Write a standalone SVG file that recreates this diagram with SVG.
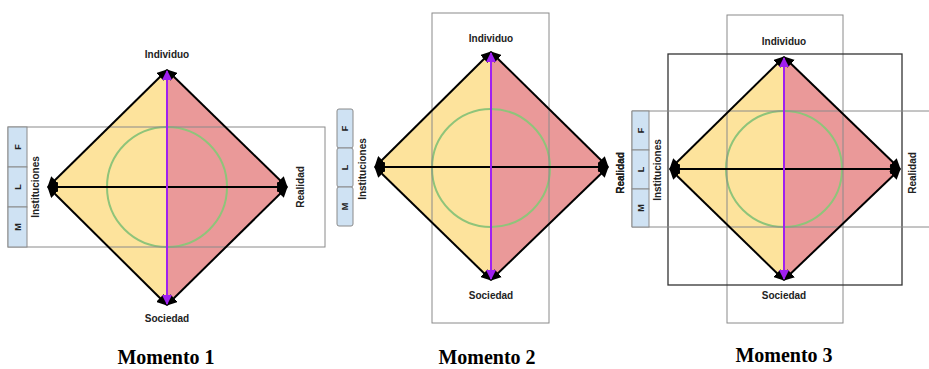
<svg xmlns="http://www.w3.org/2000/svg" width="929" height="369" viewBox="0 0 929 369">
<style>
.yel{fill:#fde39c;stroke:none}
.red{fill:#ea9999;stroke:none}
.edge{stroke:#000;stroke-width:2;fill:none}
.axisH{stroke:#000;stroke-width:1.8;fill:none}
.axisV{stroke:#a020f0;stroke-width:2;fill:none}
.circ{fill:none;stroke:#8fc47a;stroke-width:2}
.box{fill:none;stroke:#8a8a8a;stroke-width:1}
.boxd{fill:none;stroke:#333;stroke-width:1.3}
.blk{fill:#cfe2f3;stroke:#8a8a8a;stroke-width:1}
.lbl{font-family:"Liberation Sans",Arial,sans-serif;font-weight:bold;font-size:10px;fill:#222;text-anchor:middle}
.let{font-family:"Liberation Sans",Arial,sans-serif;font-weight:bold;font-size:9px;fill:#222;text-anchor:middle}
.cap{font-family:"Liberation Serif","Times New Roman",serif;font-weight:bold;font-size:20px;fill:#000;text-anchor:middle}
</style>
<defs>
<marker id="ak" viewBox="0 0 10 10" refX="9" refY="5" markerWidth="5.5" markerHeight="5.5" orient="auto-start-reverse"><path d="M0,0 L10,5 L0,10 z" fill="#000"/></marker>
<marker id="ap" viewBox="0 0 10 10" refX="9" refY="5" markerWidth="5" markerHeight="5" orient="auto-start-reverse"><path d="M0,0 L10,5 L0,10 z" fill="#a020f0"/></marker>
</defs>

<!-- Momento 1 -->
<g id="m1-diamond">
<polygon class="yel" points="167,70 48,187 167,305"/>
<polygon class="red" points="167,70 287,187 167,305"/>
<circle class="circ" cx="167" cy="187" r="60"/>
</g>
<g id="m1-frame">
<rect class="box" x="8" y="127" width="317" height="120"/>
<rect class="blk" x="8" y="127" width="19" height="40"/>
<rect class="blk" x="8" y="167" width="19" height="40"/>
<rect class="blk" x="8" y="207" width="19" height="40"/>
<text class="let" transform="translate(20.5,147) rotate(-90)">F</text>
<text class="let" transform="translate(20.5,187) rotate(-90)">L</text>
<text class="let" transform="translate(20.5,227) rotate(-90)">M</text>
</g>
<g id="m1-connectors">
<line class="edge" x1="167" y1="70" x2="48" y2="187" marker-start="url(#ak)" marker-end="url(#ak)"/>
<line class="edge" x1="167" y1="70" x2="287" y2="187" marker-start="url(#ak)" marker-end="url(#ak)"/>
<line class="edge" x1="48" y1="187" x2="167" y2="305" marker-start="url(#ak)" marker-end="url(#ak)"/>
<line class="edge" x1="287" y1="187" x2="167" y2="305" marker-start="url(#ak)" marker-end="url(#ak)"/>
<line class="axisH" x1="49" y1="187" x2="286" y2="187" marker-start="url(#ak)" marker-end="url(#ak)"/>
<line class="axisV" x1="167" y1="71" x2="167" y2="304" marker-start="url(#ap)" marker-end="url(#ap)"/>
</g>
<g id="m1-individuo"><text class="lbl" x="167" y="58">Individuo</text></g>
<g id="m1-sociedad"><text class="lbl" x="167" y="322">Sociedad</text></g>
<g id="m1-instituciones"><text class="lbl" transform="translate(39,187) rotate(-90)">Instituciones</text></g>
<g id="m1-realidad"><text class="lbl" transform="translate(304,187) rotate(-90)">Realidad</text></g>
<text class="cap" x="166" y="364">Momento 1</text>

<!-- Momento 2 -->
<g id="m2-diamond">
<polygon class="yel" points="491,52 375,167 491,280"/>
<polygon class="red" points="491,52 608,167 491,280"/>
<circle class="circ" cx="491" cy="168" r="59"/>
</g>
<g id="m2-frame">
<rect class="box" x="432" y="13" width="117" height="310"/>
<rect class="blk" x="337" y="109" width="16" height="39" rx="2"/>
<rect class="blk" x="337" y="148" width="16" height="39" rx="2"/>
<rect class="blk" x="337" y="187" width="16" height="39" rx="2"/>
<text class="let" transform="translate(348,128.5) rotate(-90)">F</text>
<text class="let" transform="translate(348,167.5) rotate(-90)">L</text>
<text class="let" transform="translate(348,206.5) rotate(-90)">M</text>
</g>
<g id="m2-connectors">
<line class="edge" x1="491" y1="52" x2="375" y2="167" marker-start="url(#ak)" marker-end="url(#ak)"/>
<line class="edge" x1="491" y1="52" x2="608" y2="167" marker-start="url(#ak)" marker-end="url(#ak)"/>
<line class="edge" x1="375" y1="167" x2="491" y2="280" marker-start="url(#ak)" marker-end="url(#ak)"/>
<line class="edge" x1="608" y1="167" x2="491" y2="280" marker-start="url(#ak)" marker-end="url(#ak)"/>
<line class="axisH" x1="376" y1="167" x2="607" y2="167" marker-start="url(#ak)" marker-end="url(#ak)"/>
<line class="axisV" x1="491" y1="53" x2="491" y2="279" marker-start="url(#ap)" marker-end="url(#ap)"/>
</g>
<g id="m2-individuo"><text class="lbl" x="491" y="42">Individuo</text></g>
<g id="m2-sociedad"><text class="lbl" x="491" y="299">Sociedad</text></g>
<g id="m2-instituciones"><text class="lbl" transform="translate(366,169) rotate(-90)">Instituciones</text></g>
<g id="m2-realidad"><text class="lbl" transform="translate(624,173) rotate(-90)">Realidad</text></g>
<text class="cap" x="487" y="364">Momento 2</text>

<!-- Momento 3 -->
<g id="m3-diamond">
<polygon class="yel" points="784,57 670,169 784,280"/>
<polygon class="red" points="784,57 900,169 784,280"/>
<circle class="circ" cx="784" cy="169" r="58"/>
</g>
<g id="m3-frame">
<rect class="box" x="727" y="15" width="116" height="308"/>
<rect class="boxd" x="668" y="54" width="234" height="231"/>
<line class="box" x1="632" y1="111" x2="929" y2="111"/>
<line class="box" x1="632" y1="227" x2="929" y2="227"/>
<line class="box" x1="632" y1="111" x2="632" y2="227"/>
<rect class="blk" x="632" y="111" width="17" height="39"/>
<rect class="blk" x="632" y="150" width="17" height="39"/>
<rect class="blk" x="632" y="189" width="17" height="38"/>
<text class="let" transform="translate(643.5,130.5) rotate(-90)">F</text>
<text class="let" transform="translate(643.5,169.5) rotate(-90)">L</text>
<text class="let" transform="translate(643.5,208) rotate(-90)">M</text>
</g>
<g id="m3-connectors">
<line class="edge" x1="784" y1="57" x2="670" y2="169" marker-start="url(#ak)" marker-end="url(#ak)"/>
<line class="edge" x1="784" y1="57" x2="900" y2="169" marker-start="url(#ak)" marker-end="url(#ak)"/>
<line class="edge" x1="670" y1="169" x2="784" y2="280" marker-start="url(#ak)" marker-end="url(#ak)"/>
<line class="edge" x1="900" y1="169" x2="784" y2="280" marker-start="url(#ak)" marker-end="url(#ak)"/>
<line class="axisH" x1="671" y1="169" x2="899" y2="169" marker-start="url(#ak)" marker-end="url(#ak)"/>
<line class="axisV" x1="784" y1="58" x2="784" y2="279" marker-start="url(#ap)" marker-end="url(#ap)"/>
</g>
<g id="m3-individuo"><text class="lbl" x="784" y="45">Individuo</text></g>
<g id="m3-sociedad"><text class="lbl" x="784" y="299">Sociedad</text></g>
<g id="m3-instituciones"><text class="lbl" transform="translate(661,170) rotate(-90)">Instituciones</text></g>
<g id="m3-realidad-left"><text class="lbl" transform="translate(624,173) rotate(-90)">Realidad</text></g>
<g id="m3-realidad-right"><text class="lbl" transform="translate(916,173) rotate(-90)">Realidad</text></g>
<text class="cap" x="784" y="362">Momento 3</text>
</svg>
